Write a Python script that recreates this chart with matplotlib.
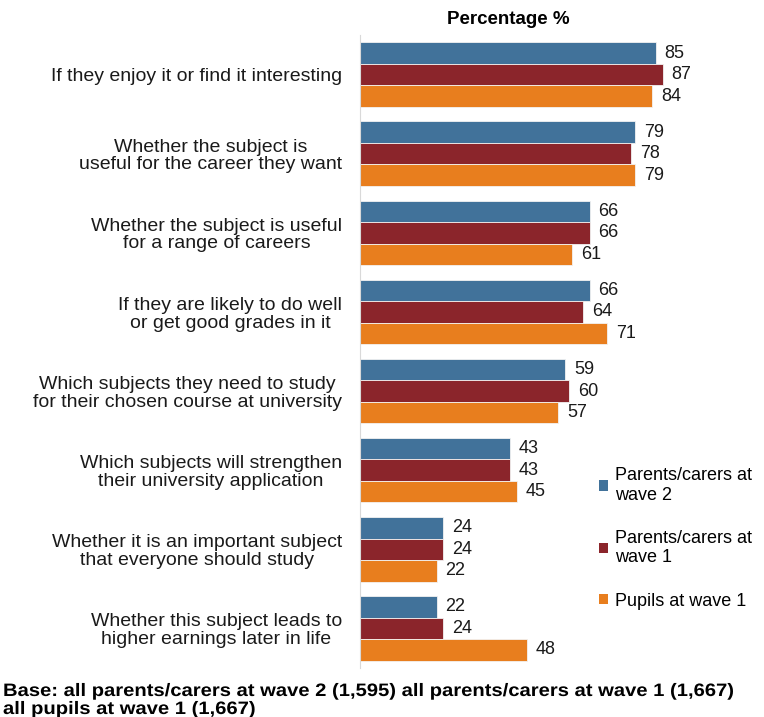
import numpy as np
import matplotlib.pyplot as plt
from matplotlib.patches import Patch, PathPatch
from matplotlib.textpath import TextPath
from matplotlib.font_manager import FontProperties
from matplotlib.transforms import Affine2D, IdentityTransform

plt.rcParams['font.family'] = ['Liberation Sans', 'DejaVu Sans']

reasons = [
    "If they enjoy it or find it interesting",
    "Whether the subject is\nuseful for the career they want",
    "Whether the subject is useful\nfor a range of careers",
    "If they are likely to do well\nor get good grades in it",
    "Which subjects they need to study\nfor their chosen course at university",
    "Which subjects will strengthen\ntheir university application",
    "Whether it is an important subject\nthat everyone should study",
    "Whether this subject leads to\nhigher earnings later in life",
]
parents_w2 = [85, 79, 66, 66, 59, 43, 24, 22]
parents_w1 = [87, 78, 66, 64, 60, 43, 24, 24]
pupils_w1 = [84, 79, 61, 71, 57, 45, 22, 48]

series = [
    ("Parents/carers at\nwave 2", parents_w2, "#41729a"),
    ("Parents/carers at\nwave 1", parents_w1, "#8b252b"),
    ("Pupils at wave 1", pupils_w1, "#e87e1e"),
]

base_lines = [
    "Base: all parents/carers at wave 2 (1,595) all parents/carers at wave 1 (1,667)",
    "all pupils at wave 1 (1,667)",
]

fig = plt.figure(figsize=(7.64, 7.17), dpi=100)
ax = fig.add_axes([360 / 764, 1 - 668 / 717, 400 / 764, 633 / 717])

y = np.arange(len(reasons))
h = 0.272
for k, (name, vals, col) in enumerate(series):
    pos = y + (k - 1) * h
    ax.barh(pos, vals, height=h, color=col, edgecolor="#f2f2f2", linewidth=0.6)
    for p, v in zip(pos, vals):
        ax.text(v + 2.6, p, str(v), va="center", ha="left", fontsize=13, color="#1a1a1a")

ax.set_xlim(0, 115)
ax.set_ylim(7.5, -0.5)
ax.set_yticks(y)
ax.set_yticklabels(reasons, fontsize=14, multialignment="center", color="#1a1a1a",
                   linespacing=1.05)
ax.tick_params(axis="y", length=0, pad=13)
ax.set_xticks([])
for s in ["top", "right", "bottom"]:
    ax.spines[s].set_visible(False)
ax.spines["left"].set_color("#d9d9d9")

fig.text(508 / 764, 1 - 20 / 717, "Percentage %", ha="center", va="center",
         fontsize=13.5, fontweight="bold")

handles = [Patch(facecolor=c, edgecolor="none") for _, _, c in series]
fig.legend(handles, [n for n, _, _ in series], loc="upper left",
           bbox_to_anchor=(590 / 764, 1 - 458 / 717), frameon=False,
           fontsize=13, handlelength=0.5, handleheight=0.5, handletextpad=0.4,
           labelspacing=1.45, borderpad=0)

# condensed bold footnote: glyph outlines squeezed horizontally
fp = FontProperties(family="Liberation Sans", weight="bold")
first = TextPath((0, 0), base_lines[0], size=18, prop=fp)
sx = 730 / first.get_extents().x1
for line, baseline in zip(base_lines, [21, 3]):
    tp = TextPath((0, 0), line, size=18, prop=fp)
    tr = Affine2D().scale(sx, 1).translate(3, baseline) + IdentityTransform()
    fig.add_artist(PathPatch(tp, facecolor="black", lw=0, transform=tr))

fig.savefig("out.png", dpi=100)
